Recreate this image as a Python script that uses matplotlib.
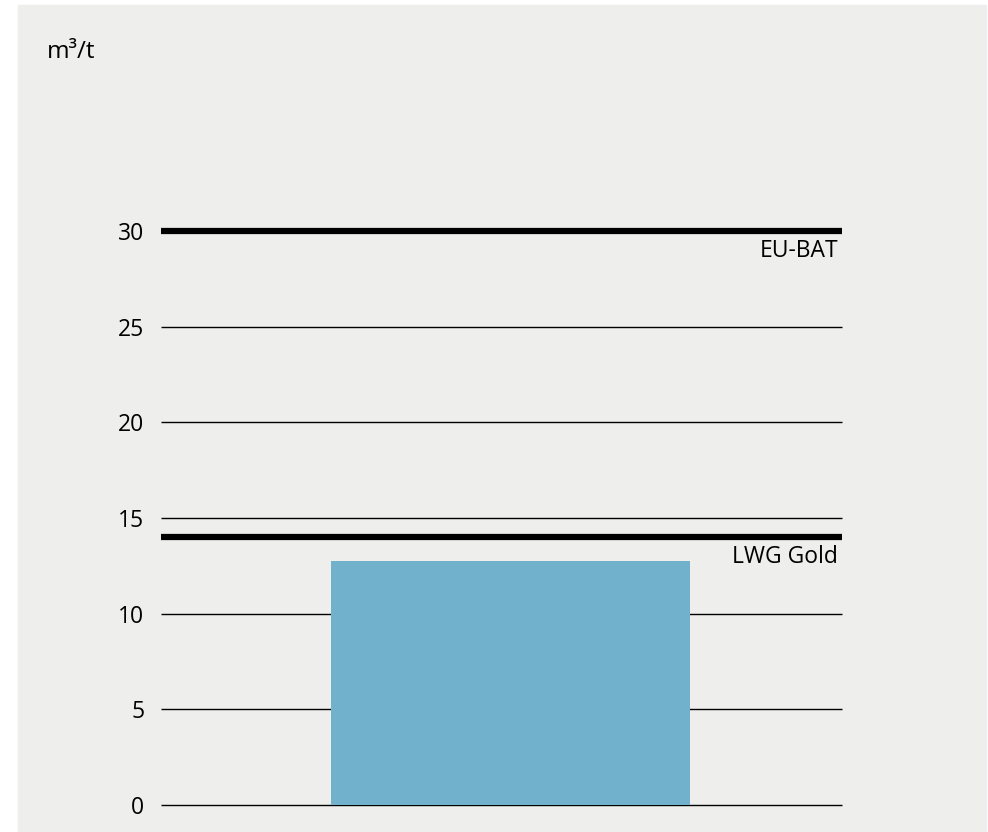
import matplotlib.pyplot as plt
from matplotlib.patches import Rectangle

# --- data ---
categories = [""]
values = [12.75]
yticks = [0, 5, 10, 15, 20, 25, 30]
ref_values = [30, 14]
ref_labels = ["EU-BAT", "LWG Gold"]

plt.rcParams['font.family'] = ['Open Sans', 'DejaVu Sans']

fig = plt.figure(figsize=(9.88, 8.32), dpi=100)
fig.patch.set_facecolor('white')
fig.patches.append(Rectangle((18 / 988, 0), 968 / 988, 827 / 832,
                             transform=fig.transFigure, color='#eeeeec', zorder=-1))

ax = fig.add_axes([161 / 988, 27 / 832, 681 / 988, 574 / 832])
ax.set_facecolor('none')

ax.bar([0], values, width=0.527, color='#71b1cb', zorder=3)
ax.set_xlim(-0.513, 0.487)
ax.set_ylim(0, 30)

for y in yticks:
    if y not in ref_values:
        ax.axhline(y, color='black', lw=1.0, zorder=1, clip_on=False,
                   solid_capstyle='butt')
for y, lab in zip(ref_values, ref_labels):
    ax.axhline(y, color='black', lw=4.5, zorder=4, clip_on=False,
               solid_capstyle='butt')
    ax.text(0.487 - 0.006, y - 0.42, lab, ha='right', va='top', fontsize=16.5)

ax.set_yticks(yticks)
ax.set_xticks([])
ax.tick_params(axis='y', length=0, pad=12, labelsize=16.5)
for s in ax.spines.values():
    s.set_visible(False)

fig.text(47 / 988, 1 - 52 / 832, "m³/t", fontsize=17.5, va='center', ha='left')

plt.savefig("out.png", dpi=100)
plt.close()
